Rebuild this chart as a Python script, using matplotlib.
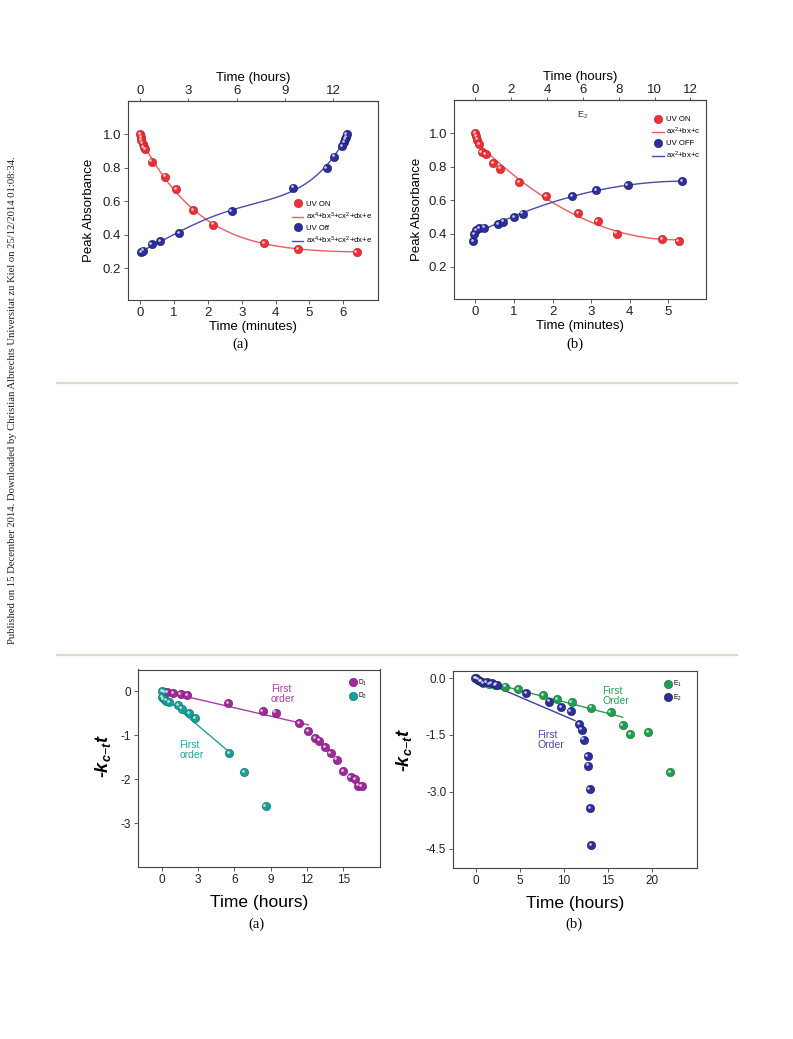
import numpy as np
import matplotlib
matplotlib.use("Agg")
import matplotlib.pyplot as plt
from matplotlib.lines import Line2D
from matplotlib.transforms import offset_copy

plt.rcParams['font.family'] = ['Liberation Sans', 'DejaVu Sans']
plt.rcParams['axes.unicode_minus'] = False
plt.rcParams['mathtext.fontset'] = 'custom'
plt.rcParams['mathtext.rm'] = 'Liberation Sans'
plt.rcParams['mathtext.it'] = 'Liberation Sans:italic:bold'
plt.rcParams['mathtext.bf'] = 'Liberation Sans:bold'

# ---------------- data ----------------
# (a) top: peak absorbance vs time (minutes)
a_on_t = [0.00, 0.02, 0.04, 0.07, 0.10, 0.15, 0.34, 0.73, 1.06, 1.57, 2.16, 3.66, 4.66, 6.40]
a_on_y = [1.00, 0.985, 0.965, 0.945, 0.925, 0.91, 0.838, 0.748, 0.672, 0.546, 0.46, 0.348, 0.316, 0.298]
a_off_t = [0.04, 0.09, 0.34, 0.58, 1.15, 2.70, 4.53, 5.51, 5.74, 5.96, 6.02, 6.05, 6.08, 6.10]
a_off_y = [0.295, 0.305, 0.345, 0.364, 0.412, 0.54, 0.682, 0.80, 0.868, 0.932, 0.955, 0.97, 0.985, 1.0]
a_min_per_hour = 0.475

# (b) top
b_on_t = [0.00, 0.02, 0.05, 0.10, 0.165, 0.27, 0.47, 0.64, 1.14, 1.83, 2.66, 3.17, 3.66, 4.84, 5.26]
b_on_y = [1.00, 0.982, 0.962, 0.936, 0.888, 0.878, 0.821, 0.789, 0.708, 0.624, 0.522, 0.475, 0.40, 0.365, 0.357]
b_off_t = [-0.05, -0.03, 0.02, 0.10, 0.23, 0.60, 0.72, 1.00, 1.23, 2.51, 3.13, 3.94, 5.35]
b_off_y = [0.355, 0.398, 0.42, 0.432, 0.436, 0.456, 0.472, 0.50, 0.52, 0.626, 0.66, 0.69, 0.713]
b_min_per_hour = 0.464

# (a) bottom: -k t vs time (hours)
d1_t = [0.2, 0.44, 0.94, 1.54, 2.10, 5.49, 8.33, 9.40, 11.36, 12.08, 12.68, 13.01, 13.48, 13.95,
        14.45, 15.0, 15.61, 15.96, 16.2, 16.51]
d1_k = [-0.01, -0.02, -0.04, -0.06, -0.08, -0.27, -0.44, -0.48, -0.72, -0.90, -1.06, -1.12, -1.26,
        -1.40, -1.55, -1.82, -1.95, -2.0, -2.14, -2.16]
d2_t = [0.0, 0.0, 0.14, 0.36, 0.58, 1.35, 1.63, 2.26, 2.73, 5.54, 6.81, 8.57]
d2_k = [0.0, -0.13, -0.18, -0.21, -0.25, -0.31, -0.39, -0.50, -0.60, -1.40, -1.84, -2.61]
d1_fit_t = [0.2, 12.1]
d1_fit_k = [0.0, -0.76]
d2_fit_t = [0.0, 5.76]
d2_fit_k = [-0.08, -1.42]

# (b) bottom
e1_t = [0.0, 0.5, 0.83, 1.5, 2.2, 3.3, 4.82, 7.67, 9.26, 10.9, 13.1, 15.34, 16.7, 17.54, 19.63, 22.1]
e1_k = [0.0, -0.07, -0.13, -0.15, -0.18, -0.22, -0.28, -0.45, -0.56, -0.63, -0.78, -0.90, -1.24,
        -1.47, -1.43, -2.49]
e2_t = [-0.1, 0.27, 0.65, 1.22, 1.79, 2.35, 5.69, 8.31, 9.68, 10.78, 11.73, 12.03, 12.27, 12.72,
        12.8, 12.95, 13.02, 13.1]
e2_k = [0.0, -0.04, -0.09, -0.11, -0.13, -0.17, -0.40, -0.62, -0.77, -0.86, -1.21, -1.36, -1.62,
        -2.05, -2.31, -2.92, -3.43, -4.40]
e1_fit_t = [0.5, 16.7]
e1_fit_k = [-0.05, -1.03]
e2_fit_t = [0.0, 11.28]
e2_fit_k = [0.0, -1.12]

# ---------------- style ----------------
RED, RED_E, RED_L = '#ee3036', '#b51c22', '#f25a5e'
BLUE, BLUE_E, BLUE_L = '#2c2e9c', '#16176a', '#4a4aa8'
PURP, PURP_E = '#a02a9c', '#6c136a'
TEAL, TEAL_E = '#16a09a', '#0b6a66'
GREEN, GREEN_E = '#1fa04e', '#106a30'
SPINE = '#444444'
MS = 6.0

fig = plt.figure(figsize=(7.93, 10.39), dpi=100)
W, H = 793.0, 1039.0


def add_ax(x0, x1, y0, y1):
    return fig.add_axes([x0 / W, 1 - y1 / H, (x1 - x0) / W, (y1 - y0) / H])


def balls(ax, x, y, color, edge, ms=MS, z=3):
    ax.plot(x, y, 'o', ms=ms, mfc=color, mec=edge, mew=0.4, ls='none', zorder=z)
    tr = offset_copy(ax.transData, fig=fig, x=-0.9, y=0.9, units='points')
    ax.plot(x, y, 'o', ms=ms * 0.32, mfc='white', mec='none', alpha=0.75, ls='none',
            transform=tr, zorder=z + 0.1)


def style(ax, fs):
    for s in ax.spines.values():
        s.set_color(SPINE)
        s.set_linewidth(0.8)
    ax.tick_params(direction='out', length=3, width=0.6, colors=SPINE, labelcolor='#222222',
                   labelsize=fs, pad=2)
    ax.tick_params(axis='both', which='both', top=False, right=False)


def ball_handle(color, edge):
    return Line2D([], [], marker='o', ls='none', ms=MS, mfc=color, mec=edge, mew=0.4)


# ---------------- top (a) ----------------
ax1 = add_ax(128.3, 377.7, 101, 300)
style(ax1, 9.5)
xs = np.linspace(min(a_on_t), max(a_on_t), 300)
ax1.plot(xs, np.polyval(np.polyfit(a_on_t, a_on_y, 4), xs), color=RED_L, lw=1.0, zorder=2)
xs = np.linspace(min(a_off_t), max(a_off_t), 300)
ax1.plot(xs, np.polyval(np.polyfit(a_off_t, a_off_y, 4), xs), color=BLUE_L, lw=1.0, zorder=2)
balls(ax1, a_on_t, a_on_y, RED, RED_E)
balls(ax1, a_off_t, a_off_y, BLUE, BLUE_E)
ax1.set_xlim(-0.35, 7.02)
ax1.set_ylim(0.01, 1.2)
ax1.set_xticks([0, 1, 2, 3, 4, 5, 6])
ax1.set_yticks([0.2, 0.4, 0.6, 0.8, 1.0])
ax1.set_yticklabels(['0.2', '0.4', '0.6', '0.8', '1.0'])
ax1.set_xlabel('Time (minutes)', fontsize=9.5, labelpad=1.5)
ax1.set_ylabel('Peak Absorbance', fontsize=9.5)
ax1.yaxis.set_label_coords(-0.134, 0.45)
sec1 = ax1.secondary_xaxis('top', functions=(lambda m: m / a_min_per_hour, lambda h: h * a_min_per_hour))
sec1.set_xticks([0, 3, 6, 9, 12])
sec1.tick_params(direction='out', length=2.5, width=0.6, colors=SPINE, labelcolor='#222222', labelsize=9.5, pad=0.5)
sec1.set_xlabel('Time (hours)', fontsize=9.5, labelpad=3)
h = [ball_handle(RED, RED_E), Line2D([], [], color=RED_L, lw=1.0),
     ball_handle(BLUE, BLUE_E), Line2D([], [], color=BLUE_L, lw=1.0)]
ax1.legend(h, ['UV ON', 'ax$^4$+bx$^3$+cx$^2$+dx+e', 'UV Off', 'ax$^4$+bx$^3$+cx$^2$+dx+e'],
           loc='upper left', bbox_to_anchor=(0.64, 0.52), frameon=False, fontsize=5.6,
           handlelength=1.5, handletextpad=0.3, labelspacing=0.35, borderpad=0)

# ---------------- top (b) ----------------
ax2 = add_ax(454.3, 706, 100, 298.7)
style(ax2, 9.5)
xs = np.linspace(min(b_on_t), max(b_on_t), 300)
ax2.plot(xs, np.polyval(np.polyfit(b_on_t, b_on_y, 2), xs), color=RED_L, lw=1.0, zorder=2)
xs = np.linspace(min(b_off_t), max(b_off_t), 300)
ax2.plot(xs, np.polyval(np.polyfit(b_off_t, b_off_y, 2), xs), color=BLUE_L, lw=1.0, zorder=2)
balls(ax2, b_on_t, b_on_y, RED, RED_E)
balls(ax2, b_off_t, b_off_y, BLUE, BLUE_E)
ax2.set_xlim(-0.54, 5.97)
ax2.set_ylim(0.01, 1.2)
ax2.set_xticks([0, 1, 2, 3, 4, 5])
ax2.set_yticks([0.2, 0.4, 0.6, 0.8, 1.0])
ax2.set_yticklabels(['0.2', '0.4', '0.6', '0.8', '1.0'])
ax2.set_xlabel('Time (minutes)', fontsize=9.5, labelpad=1.5)
ax2.set_ylabel('Peak Absorbance', fontsize=9.5)
ax2.yaxis.set_label_coords(-0.124, 0.45)
sec2 = ax2.secondary_xaxis('top', functions=(lambda m: m / b_min_per_hour, lambda h: h * b_min_per_hour))
sec2.set_xticks([0, 2, 4, 6, 8, 10, 12])
sec2.tick_params(direction='out', length=2.5, width=0.6, colors=SPINE, labelcolor='#222222', labelsize=9.5, pad=0.5)
sec2.set_xlabel('Time (hours)', fontsize=9.5, labelpad=3)
ax2.text(2.78, 1.11, 'E$_2$', fontsize=6.5, ha='center', va='center', color='#333333')
h = [ball_handle(RED, RED_E), Line2D([], [], color=RED_L, lw=1.0),
     ball_handle(BLUE, BLUE_E), Line2D([], [], color=BLUE_L, lw=1.0)]
ax2.legend(h, ['UV ON', 'ax$^2$+bx+c', 'UV OFF', 'ax$^2$+bx+c'],
           loc='upper left', bbox_to_anchor=(0.77, 0.94), frameon=False, fontsize=5.6,
           handlelength=1.5, handletextpad=0.3, labelspacing=0.35, borderpad=0)

# ---------------- bottom (a) ----------------
ax3 = add_ax(137.7, 380.3, 669.5, 867.3)
style(ax3, 8.5)
ax3.plot(d1_fit_t, d1_fit_k, color='#a83ca4', lw=1.0, zorder=2)
ax3.plot(d2_fit_t, d2_fit_k, color='#22a09c', lw=1.0, zorder=2)
balls(ax3, d1_t, d1_k, PURP, PURP_E)
balls(ax3, d2_t, d2_k, TEAL, TEAL_E)
ax3.set_xlim(-2.0, 18.06)
ax3.set_ylim(-4.0, 0.5)
ax3.set_xticks([0, 3, 6, 9, 12, 15])
ax3.set_yticks([0, -1, -2, -3])
ax3.set_xlabel('Time (hours)', fontsize=12.5, labelpad=6)
ax3.set_ylabel(r'-$k_{c\mathrm{-}t}t$', fontsize=13, fontweight='bold')
ax3.yaxis.set_label_coords(-0.10, 0.56)
ax3.text(9.0, -0.06, 'First\norder', color='#a640a2', fontsize=7.5, ha='left', va='center',
         linespacing=1.05)
ax3.text(1.43, -1.33, 'First\norder', color='#28a4a0', fontsize=7.5, ha='left', va='center',
         linespacing=1.05)
ax3.legend([ball_handle(PURP, PURP_E), ball_handle(TEAL, TEAL_E)], ['D$_1$', 'D$_2$'],
           loc='upper right', bbox_to_anchor=(0.96, 0.975), frameon=False, fontsize=4.8,
           handlelength=0.8, handletextpad=0.4, labelspacing=0.45, borderpad=0)

# ---------------- bottom (b) ----------------
ax4 = add_ax(453.3, 697.3, 671, 868.3)
style(ax4, 8.5)
ax4.plot(e1_fit_t, e1_fit_k, color='#2aa052', lw=1.0, zorder=2)
ax4.plot(e2_fit_t, e2_fit_k, color='#3c3ca4', lw=1.0, zorder=2)
balls(ax4, e1_t, e1_k, GREEN, GREEN_E)
balls(ax4, e2_t, e2_k, BLUE, BLUE_E)
ax4.set_xlim(-2.58, 25.2)
ax4.set_ylim(-5.02, 0.19)
ax4.set_xticks([0, 5, 10, 15, 20])
ax4.set_yticks([0.0, -1.5, -3.0, -4.5])
ax4.set_yticklabels(['0.0', '-1.5', '-3.0', '-4.5'])
ax4.set_xlabel('Time (hours)', fontsize=12.5, labelpad=6)
ax4.set_ylabel(r'-$k_{c\mathrm{-}t}t$', fontsize=13, fontweight='bold')
ax4.yaxis.set_label_coords(-0.16, 0.6)
ax4.text(14.42, -0.47, 'First\nOrder', color='#2ca456', fontsize=7.5, ha='left', va='center',
         linespacing=1.05)
ax4.text(7.0, -1.63, 'First\nOrder', color='#4a48aa', fontsize=7.5, ha='left', va='center',
         linespacing=1.05)
ax4.legend([ball_handle(GREEN, GREEN_E), ball_handle(BLUE, BLUE_E)], ['E$_1$', 'E$_2$'],
           loc='upper right', bbox_to_anchor=(0.95, 0.975), frameon=False, fontsize=4.8,
           handlelength=0.8, handletextpad=0.4, labelspacing=0.45, borderpad=0)

# ---------------- page elements ----------------
for yy in (383, 654.5):
    fig.add_artist(Line2D([57 / W, 737 / W], [1 - yy / H, 1 - yy / H], color='#dcd9c8', lw=1.6))

fig.text(240 / W, 1 - 344 / H, '(a)', fontsize=10.5, family='Liberation Serif', ha='center', va='center')
fig.text(575 / W, 1 - 344 / H, '(b)', fontsize=10.5, family='Liberation Serif', ha='center', va='center')
fig.text(256 / W, 1 - 924 / H, '(a)', fontsize=10.5, family='Liberation Serif', ha='center', va='center')
fig.text(574 / W, 1 - 924 / H, '(b)', fontsize=10.5, family='Liberation Serif', ha='center', va='center')

fig.text(13 / W, 1 - 400 / H,
         'Published on 15 December 2014. Downloaded by Christian Albrechts Universitat zu Kiel on 25/12/2014 01:08:34.',
         rotation=90, fontsize=7.7, family='Liberation Serif', ha='center', va='center', color='#222222')

fig.savefig('out.png', dpi=100)
